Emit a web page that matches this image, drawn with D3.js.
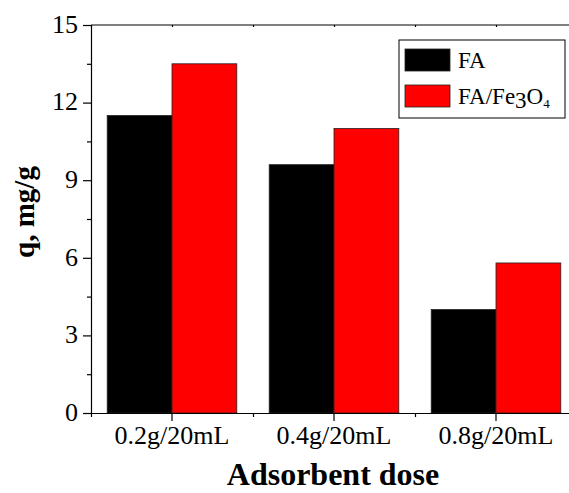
<!DOCTYPE html>
<html>
<head>
<meta charset="utf-8">
<script src="https://cdn.jsdelivr.net/npm/d3@7"></script>
<style>
  html, body { margin: 0; padding: 0; background: #fff; }
  svg { display: block; }
  text { font-family: "Liberation Serif", "Times New Roman", serif; fill: #000; }
</style>
</head>
<body>
<div id="chart"></div>
<script>
// adsorbent dose bar chart
const doses = ["0.2g/20mL", "0.4g/20mL", "0.8g/20mL"];
const seriesNames = ["FA", "FA/Fe3O4"];
const faValues = [11.5, 9.6, 4.0];
const faFeValues = [13.5, 11.0, 5.8];
const yTicks = [0, 3, 6, 9, 12, 15];
const yMinorTicks = [1.5, 4.5, 7.5, 10.5, 13.5];

const colors = { "FA": "#000000", "FA/Fe3O4": "#ff0000" };

const W = 569, H = 493;
const margin = { top: 25, right: -8, bottom: 80, left: 91 };
const width = W - margin.left - margin.right;   // 486
const height = H - margin.top - margin.bottom;  // 388

const rows = doses.map((d, i) => ({
  dose: d,
  values: [
    { name: seriesNames[0], value: faValues[i] },
    { name: seriesNames[1], value: faFeValues[i] },
  ],
}));

const svg = d3.select("#chart").append("svg")
  .attr("width", W)
  .attr("height", H);

const g = svg.append("g")
  .attr("transform", `translate(${margin.left},${margin.top})`);

const x0 = d3.scaleBand()
  .domain(doses)
  .range([0, width])
  .paddingInner(0.2)
  .paddingOuter(0.1);

const x1 = d3.scaleBand()
  .domain(seriesNames)
  .range([0, x0.bandwidth()]);

const y = d3.scaleLinear()
  .domain([0, 15])
  .range([height, 0]);

// bars
const groups = g.selectAll(".grp")
  .data(rows)
  .enter().append("g")
  .attr("class", "grp")
  .attr("transform", (d) => `translate(${x0(d.dose)},0)`);

groups.selectAll("rect")
  .data((d) => d.values)
  .enter().append("rect")
  .attr("x", (d) => x1(d.name))
  .attr("y", (d) => y(d.value))
  .attr("width", x1.bandwidth())
  .attr("height", (d) => height - y(d.value))
  .attr("fill", (d) => colors[d.name])
  .attr("stroke", "#222")
  .attr("stroke-width", 0.8);

// y axis: major + minor ticks
const yAxis = g.append("g")
  .call(d3.axisLeft(y).tickValues(yTicks).tickSize(8).tickPadding(5).tickSizeOuter(0));
yAxis.selectAll("text").style("font-size", "26px").attr("dy", "0.28em");
g.append("g")
  .call(d3.axisLeft(y).tickValues(yMinorTicks).tickSize(4).tickFormat("").tickSizeOuter(0))
  .select(".domain").remove();

// x axis: labels at centres, minor ticks at band edges
const centres = doses.map((d) => x0(d) + x0.bandwidth() / 2);
const edges = doses.map((d) => x0(d) - x0.step() * x0.paddingInner() / 2);
edges.push(width);
const xLin = d3.scaleLinear().domain([0, width]).range([0, width]);

const xAxis = g.append("g")
  .attr("transform", `translate(0,${height})`)
  .call(d3.axisBottom(x0).tickSize(8).tickSizeOuter(0));
xAxis.selectAll("text").style("font-size", "26px").attr("y", 31).attr("dy", 0);
g.append("g")
  .attr("transform", `translate(0,${height})`)
  .call(d3.axisBottom(xLin).tickValues(edges).tickSize(4).tickFormat("").tickSizeOuter(0))
  .select(".domain").remove();

// top frame with tiny inner ticks
g.append("line")
  .attr("x1", 0).attr("x2", width)
  .attr("y1", 0).attr("y2", 0)
  .attr("stroke", "#000");
g.append("g")
  .call(d3.axisTop(xLin).tickValues(centres.concat(edges)).tickSize(-2).tickFormat("").tickSizeOuter(0))
  .select(".domain").remove();

g.selectAll(".domain, .tick line").attr("stroke", "#000").attr("stroke-width", 1.2);

// axis titles
svg.append("text")
  .attr("x", margin.left + x0.range()[1] / 2 - 1)
  .attr("y", 485)
  .attr("text-anchor", "middle")
  .style("font-size", "32px")
  .style("font-weight", "bold")
  .text("Adsorbent dose");

svg.append("text")
  .attr("transform", "translate(34,212) rotate(-90)")
  .attr("text-anchor", "middle")
  .style("font-size", "29px")
  .style("font-weight", "bold")
  .text("q, mg/g");

// legend
const legend = svg.append("g").attr("transform", "translate(399,40)");
legend.append("rect")
  .attr("width", 166).attr("height", 78)
  .attr("fill", "#fff")
  .attr("stroke", "#000")
  .attr("stroke-width", 1);

const items = legend.selectAll(".item")
  .data(seriesNames)
  .enter().append("g")
  .attr("class", "item")
  .attr("transform", (d, i) => `translate(6,${9 + i * 36})`);

items.append("rect")
  .attr("width", 45).attr("height", 22)
  .attr("fill", (d) => colors[d])
  .attr("stroke", "#222")
  .attr("stroke-width", 0.8);

items.append("text")
  .attr("x", 53)
  .attr("y", 19)
  .style("font-size", "23px")
  .each(function (d) {
    const t = d3.select(this);
    if (d === "FA/Fe3O4") {
      t.append("tspan").text("FA/Fe");
      t.append("tspan").attr("dy", 4).text("3");
      t.append("tspan").attr("dy", -4).text("O");
      t.append("tspan").attr("dy", 4).style("font-size", "13px").text("4");
    } else {
      t.text(d);
    }
  });
</script>
</body>
</html>
